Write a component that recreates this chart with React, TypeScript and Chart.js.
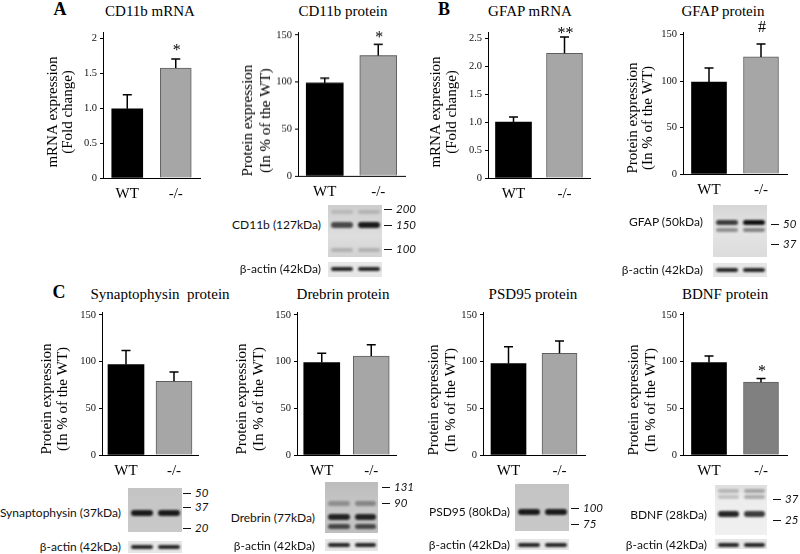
import React, { useEffect, useRef } from "react";
import { Chart, registerables } from "chart.js";

Chart.register(...registerables);

// ---------- data ----------
const groups = ["WT", "-/-"];

const cd11bMrnaMean = [0.99, 1.57];
const cd11bMrnaSem = [0.2, 0.13];
const cd11bProtMean = [99, 128];
const cd11bProtSem = [5, 12];
const gfapMrnaMean = [1.0, 2.23];
const gfapMrnaSem = [0.09, 0.29];
const gfapProtMean = [99, 126];
const gfapProtSem = [15, 14];
const synMean = [97, 79];
const synSem = [15, 10];
const drebrinMean = [99, 106];
const drebrinSem = [10, 12];
const psd95Mean = [98, 109];
const psd95Sem = [18, 13];
const bdnfMean = [99, 78];
const bdnfSem = [7, 4];

const cd11bMrnaMarks = ["", "*"];
const cd11bProtMarks = ["", "*"];
const gfapMrnaMarks = ["", "**"];
const gfapProtMarks = ["", "#"];
const noMarks = ["", ""];
const bdnfMarks = ["", "*"];

const mrnaTicksA = [0, 0.5, 1.0, 1.5, 2];
const mrnaTickLabelsA = ["0", "0.5", "1.0", "1.5", "2"];
const mrnaTicksB = [0, 0.5, 1.0, 1.5, 2.0, 2.5];
const mrnaTickLabelsB = ["0", "0.5", "1.0", "1.5", "2.0", "2.5"];
const protTicks = [0, 50, 100, 150];
const protTickLabels = ["0", "50", "100", "150"];

const mrnaTitle = ["mRNA expression", "(Fold change)"];
const protTitle = ["Protein expression", "(In % of the WT)"];

// ---------- panel layout ----------
type Panel = {
  title: string; titleX: number; titleY: number;
  mean: number[]; sem: number[]; marks: string[];
  ticks: number[]; tickLabels: string[]; yMax: number;
  yTitle: string[]; ytX: number; ytY: number; ytLh: number;
  axisX: number; zeroY: number; topY: number; endX: number;
  bar: number; gray: string; gap: number;
};

const panels: Panel[] = [
  { title: "CD11b mRNA", titleX: 150, titleY: 11, mean: cd11bMrnaMean, sem: cd11bMrnaSem, marks: cd11bMrnaMarks,
    ticks: mrnaTicksA, tickLabels: mrnaTickLabelsA, yMax: 2.086, yTitle: mrnaTitle, ytX: 53.5, ytY: 112, ytLh: 14.5,
    axisX: 103, zeroY: 178, topY: 32, endX: 200, bar: 31, gray: "#a6a6a6", gap: 8 },
  { title: "CD11b protein", titleX: 343, titleY: 11, mean: cd11bProtMean, sem: cd11bProtSem, marks: cd11bProtMarks,
    ticks: protTicks, tickLabels: protTickLabels, yMax: 153, yTitle: protTitle, ytX: 248.5, ytY: 120, ytLh: 18,
    axisX: 298, zeroY: 175.5, topY: 32, endX: 405, bar: 37, gray: "#a6a6a6", gap: 6 },
  { title: "GFAP mRNA", titleX: 530, titleY: 11, mean: gfapMrnaMean, sem: gfapMrnaSem, marks: gfapMrnaMarks,
    ticks: mrnaTicksB, tickLabels: mrnaTickLabelsB, yMax: 2.61, yTitle: mrnaTitle, ytX: 436, ytY: 112, ytLh: 16,
    axisX: 488, zeroY: 178, topY: 32, endX: 590, bar: 36, gray: "#a6a6a6", gap: 3 },
  { title: "GFAP protein", titleX: 723, titleY: 11, mean: gfapProtMean, sem: gfapProtSem, marks: gfapProtMarks,
    ticks: protTicks, tickLabels: protTickLabels, yMax: 152.8, yTitle: protTitle, ytX: 633, ytY: 118, ytLh: 15.5,
    axisX: 683, zeroY: 174, topY: 32, endX: 787, bar: 35, gray: "#a6a6a6", gap: 16 },
  { title: "Synaptophysin  protein", titleX: 160, titleY: 294, mean: synMean, sem: synSem, marks: noMarks,
    ticks: protTicks, tickLabels: protTickLabels, yMax: 153.2, yTitle: protTitle, ytX: 47, ytY: 399, ytLh: 16,
    axisX: 102, zeroY: 455, topY: 312, endX: 198, bar: 36, gray: "#a6a6a6", gap: 6 },
  { title: "Drebrin protein", titleX: 343, titleY: 294, mean: drebrinMean, sem: drebrinSem, marks: noMarks,
    ticks: protTicks, tickLabels: protTickLabels, yMax: 153.2, yTitle: protTitle, ytX: 242, ytY: 399, ytLh: 17,
    axisX: 297, zeroY: 455, topY: 312, endX: 396, bar: 36, gray: "#a6a6a6", gap: 6 },
  { title: "PSD95 protein", titleX: 533, titleY: 294, mean: psd95Mean, sem: psd95Sem, marks: noMarks,
    ticks: protTicks, tickLabels: protTickLabels, yMax: 153.2, yTitle: protTitle, ytX: 434, ytY: 400, ytLh: 17,
    axisX: 483, zeroY: 455, topY: 312, endX: 585, bar: 35, gray: "#a6a6a6", gap: 6 },
  { title: "BDNF protein", titleX: 725, titleY: 294, mean: bdnfMean, sem: bdnfSem, marks: bdnfMarks,
    ticks: protTicks, tickLabels: protTickLabels, yMax: 153.2, yTitle: protTitle, ytX: 634, ytY: 400, ytLh: 17,
    axisX: 683, zeroY: 455, topY: 312, endX: 787, bar: 35, gray: "#808080", gap: 6.5 },
];

// ---------- blots (image stand-ins) ----------
type Band = { y: number; h: number; o: number[] };
type BlotSpec = {
  label: string; labelRight: number; labelY: number;
  x: number; y: number; w: number; h: number; bg: string; bands: Band[];
  markers: { t: string; y: number }[]; markerX: number;
  ax: number; ay: number; aw: number; ah: number; aBand: number; aLabelY: number;
};

const blots: BlotSpec[] = [
  { label: "CD11b (127kDa)", labelRight: 321, labelY: 225, x: 328, y: 205, w: 54, h: 52,
    bg: "linear-gradient(#cdcdcd, #dedede 60%, #d2d2d2)",
    bands: [{ y: 212, h: 4, o: [0.12, 0.15] }, { y: 225, h: 6, o: [0.72, 0.95] }, { y: 250, h: 4, o: [0.18, 0.18] }],
    markers: [{ t: "200", y: 209 }, { t: "150", y: 225 }, { t: "100", y: 249 }], markerX: 384,
    ax: 328, ay: 262, aw: 54, ah: 15, aBand: 269, aLabelY: 269 },
  { label: "GFAP (50kDa)", labelRight: 703, labelY: 222, x: 713, y: 205, w: 54, h: 52,
    bg: "linear-gradient(#d6d6d6, #e4e4e4 50%, #dcdcdc)",
    bands: [{ y: 222, h: 5, o: [0.8, 1] }, { y: 230, h: 4, o: [0.4, 0.45] }],
    markers: [{ t: "50", y: 224 }, { t: "37", y: 244 }], markerX: 771,
    ax: 713, ay: 263, aw: 54, ah: 14, aBand: 270, aLabelY: 270 },
  { label: "Synaptophysin (37kDa)", labelRight: 121, labelY: 513, x: 128, y: 488, w: 54, h: 44,
    bg: "linear-gradient(#c4c4c4, #c9c9c9)",
    bands: [{ y: 513, h: 6, o: [0.95, 0.95] }],
    markers: [{ t: "50", y: 493 }, { t: "37", y: 507 }, { t: "20", y: 528 }], markerX: 183,
    ax: 128, ay: 541, aw: 54, ah: 12, aBand: 547, aLabelY: 547 },
  { label: "Drebrin (77kDa)", labelRight: 315, labelY: 518, x: 325, y: 482, w: 53, h: 51,
    bg: "linear-gradient(#bdbdbd, #c8c8c8 60%, #bfbfbf)",
    bands: [{ y: 503, h: 5, o: [0.3, 0.35] }, { y: 517, h: 6, o: [0.9, 0.9] }, { y: 526, h: 5, o: [0.7, 0.7] }],
    markers: [{ t: "131", y: 487 }, { t: "90", y: 503 }], markerX: 382,
    ax: 325, ay: 539, aw: 53, ah: 12, aBand: 545, aLabelY: 546 },
  { label: "PSD95 (80kDa)", labelRight: 510, labelY: 512, x: 515, y: 484, w: 54, h: 47,
    bg: "linear-gradient(#c4c4c4, #c8c8c8)",
    bands: [{ y: 512, h: 6, o: [0.95, 0.95] }],
    markers: [{ t: "100", y: 508 }, { t: "75", y: 524 }], markerX: 571,
    ax: 515, ay: 539, aw: 54, ah: 11, aBand: 545, aLabelY: 545 },
  { label: "BDNF (28kDa)", labelRight: 707, labelY: 515, x: 715, y: 485, w: 52, h: 50,
    bg: "linear-gradient(#dedede, #ededed 30%, #f0f0f0)",
    bands: [{ y: 491, h: 4, o: [0.22, 0.3] }, { y: 497, h: 4, o: [0.18, 0.28] }, { y: 514, h: 6, o: [0.9, 0.8] }],
    markers: [{ t: "37", y: 499 }, { t: "25", y: 520 }], markerX: 773,
    ax: 715, ay: 539, aw: 52, ah: 10, aBand: 545, aLabelY: 545 },
];

const letters = [
  { t: "A", x: 60, y: 9 },
  { t: "B", x: 444, y: 9 },
  { t: "C", x: 59, y: 292 },
];

// ---------- plugins ----------
const SERIF = "'Liberation Serif', 'Times New Roman', serif";
const SANS = "Lato, 'Liberation Sans', sans-serif";

const errPlugin = {
  id: "errbars",
  afterDatasetsDraw(chart: any, _args: any, opts: any) {
    const { ctx } = chart;
    const meta = chart.getDatasetMeta(0);
    const ys = chart.scales.y;
    const data = chart.data.datasets[0].data as number[];
    ctx.save();
    ctx.strokeStyle = "#000";
    ctx.lineWidth = 1.5;
    data.forEach((v: number, i: number) => {
      const x = meta.data[i].x;
      const base = ys.getPixelForValue(v);
      const top = ys.getPixelForValue(v + opts.sem[i]);
      ctx.beginPath();
      ctx.moveTo(x, base);
      ctx.lineTo(x, top);
      ctx.moveTo(x - 4.5, top);
      ctx.lineTo(x + 4.5, top);
      ctx.stroke();
      const m = opts.marks[i];
      if (m) {
        ctx.fillStyle = "#000";
        ctx.font = `16px ${SERIF}`;
        ctx.textAlign = "center";
        ctx.textBaseline = "middle";
        ctx.fillText(m, x + 1, top - opts.gap);
      }
    });
    ctx.restore();
  },
};

const yTitlePlugin = {
  id: "ytitle",
  afterDraw(chart: any, _args: any, opts: any) {
    const { ctx } = chart;
    ctx.save();
    ctx.fillStyle = "#000";
    ctx.font = `15px ${SERIF}`;
    ctx.textAlign = "center";
    ctx.textBaseline = "middle";
    opts.lines.forEach((line: string, i: number) => {
      ctx.save();
      ctx.translate(opts.x + i * opts.lh, opts.y);
      ctx.rotate(-Math.PI / 2);
      ctx.fillText(line, 0, 0);
      ctx.restore();
    });
    ctx.restore();
  },
};

function BarPanel({ p }: { p: Panel }) {
  const ref = useRef<HTMLCanvasElement>(null);
  const cx0 = p.axisX - 80;
  const cy0 = p.topY - 22;
  const cw = p.endX + 6 - cx0;
  const ch = p.zeroY + 26 - cy0;
  useEffect(() => {
    const chart = new Chart(ref.current as HTMLCanvasElement, {
      type: "bar",
      data: {
        labels: groups,
        datasets: [
          {
            data: p.mean,
            backgroundColor: ["#000000", p.gray],
            borderColor: ["#000000", "#5e5e5e"],
            borderWidth: [0, 1],
            barThickness: p.bar,
          },
        ],
      },
      plugins: [errPlugin, yTitlePlugin],
      options: {
        animation: false,
        responsive: false,
        devicePixelRatio: 1,
        layout: { padding: { top: p.topY - cy0, left: 0, right: cx0 + cw - p.endX, bottom: 0 } },
        plugins: {
          legend: { display: false },
          tooltip: { enabled: false },
          title: { display: false },
          errbars: { sem: p.sem, marks: p.marks, gap: p.gap },
          ytitle: { lines: p.yTitle, x: p.ytX - cx0, y: p.ytY - cy0, lh: p.ytLh },
        } as any,
        scales: {
          x: {
            type: "category",
            offset: true,
            grid: { display: false, drawTicks: false },
            border: { display: true, color: "#000", width: 1 },
            ticks: { color: "#000", padding: 7, font: { family: SERIF, size: 15 } },
            afterFit: (s: any) => { s.height = cy0 + ch - p.zeroY; },
          },
          y: {
            type: "linear",
            min: 0,
            max: p.yMax,
            grid: { display: true, drawOnChartArea: false, drawTicks: true, tickLength: 3, color: "#000" },
            border: { display: true, color: "#000", width: 1 },
            ticks: {
              color: "#111",
              padding: 3,
              autoSkip: false,
              font: { family: SERIF, size: 10.5 },
              callback: (_v: any, i: number) => p.tickLabels[i],
            },
            afterBuildTicks: (s: any) => { s.ticks = p.ticks.map((v) => ({ value: v })); },
            afterFit: (s: any) => { s.width = p.axisX - cx0; },
          },
        },
      } as any,
    });
    return () => chart.destroy();
  }, []);
  return (
    <canvas
      ref={ref}
      width={cw}
      height={ch}
      style={{ position: "absolute", left: cx0, top: cy0, width: cw, height: ch }}
    />
  );
}

function Blot({ b }: { b: BlotSpec }) {
  const lanes = [0, 1];
  const bandDivs = (x: number, y: number, w: number, bands: Band[]) =>
    bands.flatMap((bd, bi) =>
      lanes.map((l) => (
        <div
          key={`${bi}-${l}`}
          style={{
            position: "absolute",
            left: l * (w / 2) + 3,
            width: w / 2 - 5,
            top: bd.y - y - bd.h / 2,
            height: bd.h,
            background: "#111",
            opacity: bd.o[l],
            borderRadius: bd.h / 2,
            filter: "blur(0.8px)",
          }}
        />
      ))
    );
  const labelStyle = (right: number, y: number): React.CSSProperties => ({
    position: "absolute",
    right: 800 - right,
    top: y - 8,
    height: 16,
    lineHeight: "16px",
    fontFamily: SANS,
    fontSize: 12,
    color: "#111",
    whiteSpace: "nowrap",
  });
  return (
    <>
      <div style={{ position: "absolute", left: b.x, top: b.y, width: b.w, height: b.h, background: b.bg, overflow: "hidden" }}>
        {bandDivs(b.x, b.y, b.w, b.bands)}
      </div>
      <div style={{ position: "absolute", left: b.ax, top: b.ay, width: b.aw, height: b.ah, background: "#e6e6e6", overflow: "hidden" }}>
        {bandDivs(b.ax, b.ay, b.aw, [{ y: b.aBand, h: 4, o: [0.9, 0.9] }])}
      </div>
      <div style={labelStyle(b.labelRight, b.labelY)}>{b.label}</div>
      <div style={labelStyle(b.labelRight, b.aLabelY)}>β-actin (42kDa)</div>
      {b.markers.map((m, i) => (
        <React.Fragment key={i}>
          <div style={{ position: "absolute", left: b.markerX, top: m.y, width: 8, height: 1.4, background: "#111" }} />
          <div
            style={{
              position: "absolute",
              left: b.markerX + 12,
              top: m.y - 8,
              lineHeight: "16px",
              fontFamily: SANS,
              fontStyle: "italic",
              fontSize: 11.5,
              color: "#111",
            }}
          >
            {m.t}
          </div>
        </React.Fragment>
      ))}
    </>
  );
}

export default function App() {
  return (
    <div style={{ position: "absolute", left: 0, top: 0, width: 800, height: 554, background: "#fff", overflow: "hidden" }}>
      {letters.map((l) => (
        <div
          key={l.t}
          style={{
            position: "absolute",
            left: l.x - 10,
            width: 20,
            top: l.y - 10,
            lineHeight: "20px",
            textAlign: "center",
            fontFamily: SERIF,
            fontWeight: "bold",
            fontSize: 18,
          }}
        >
          {l.t}
        </div>
      ))}
      {panels.map((p) => (
        <div
          key={p.title + "t"}
          style={{
            position: "absolute",
            left: p.titleX - 100,
            width: 200,
            top: p.titleY - 9,
            lineHeight: "18px",
            textAlign: "center",
            fontFamily: SERIF,
            fontSize: 15,
            whiteSpace: "pre",
            color: "#000",
          }}
        >
          {p.title}
        </div>
      ))}
      {panels.map((p) => (
        <BarPanel key={p.title} p={p} />
      ))}
      {blots.map((b) => (
        <Blot key={b.label} b={b} />
      ))}
    </div>
  );
}
